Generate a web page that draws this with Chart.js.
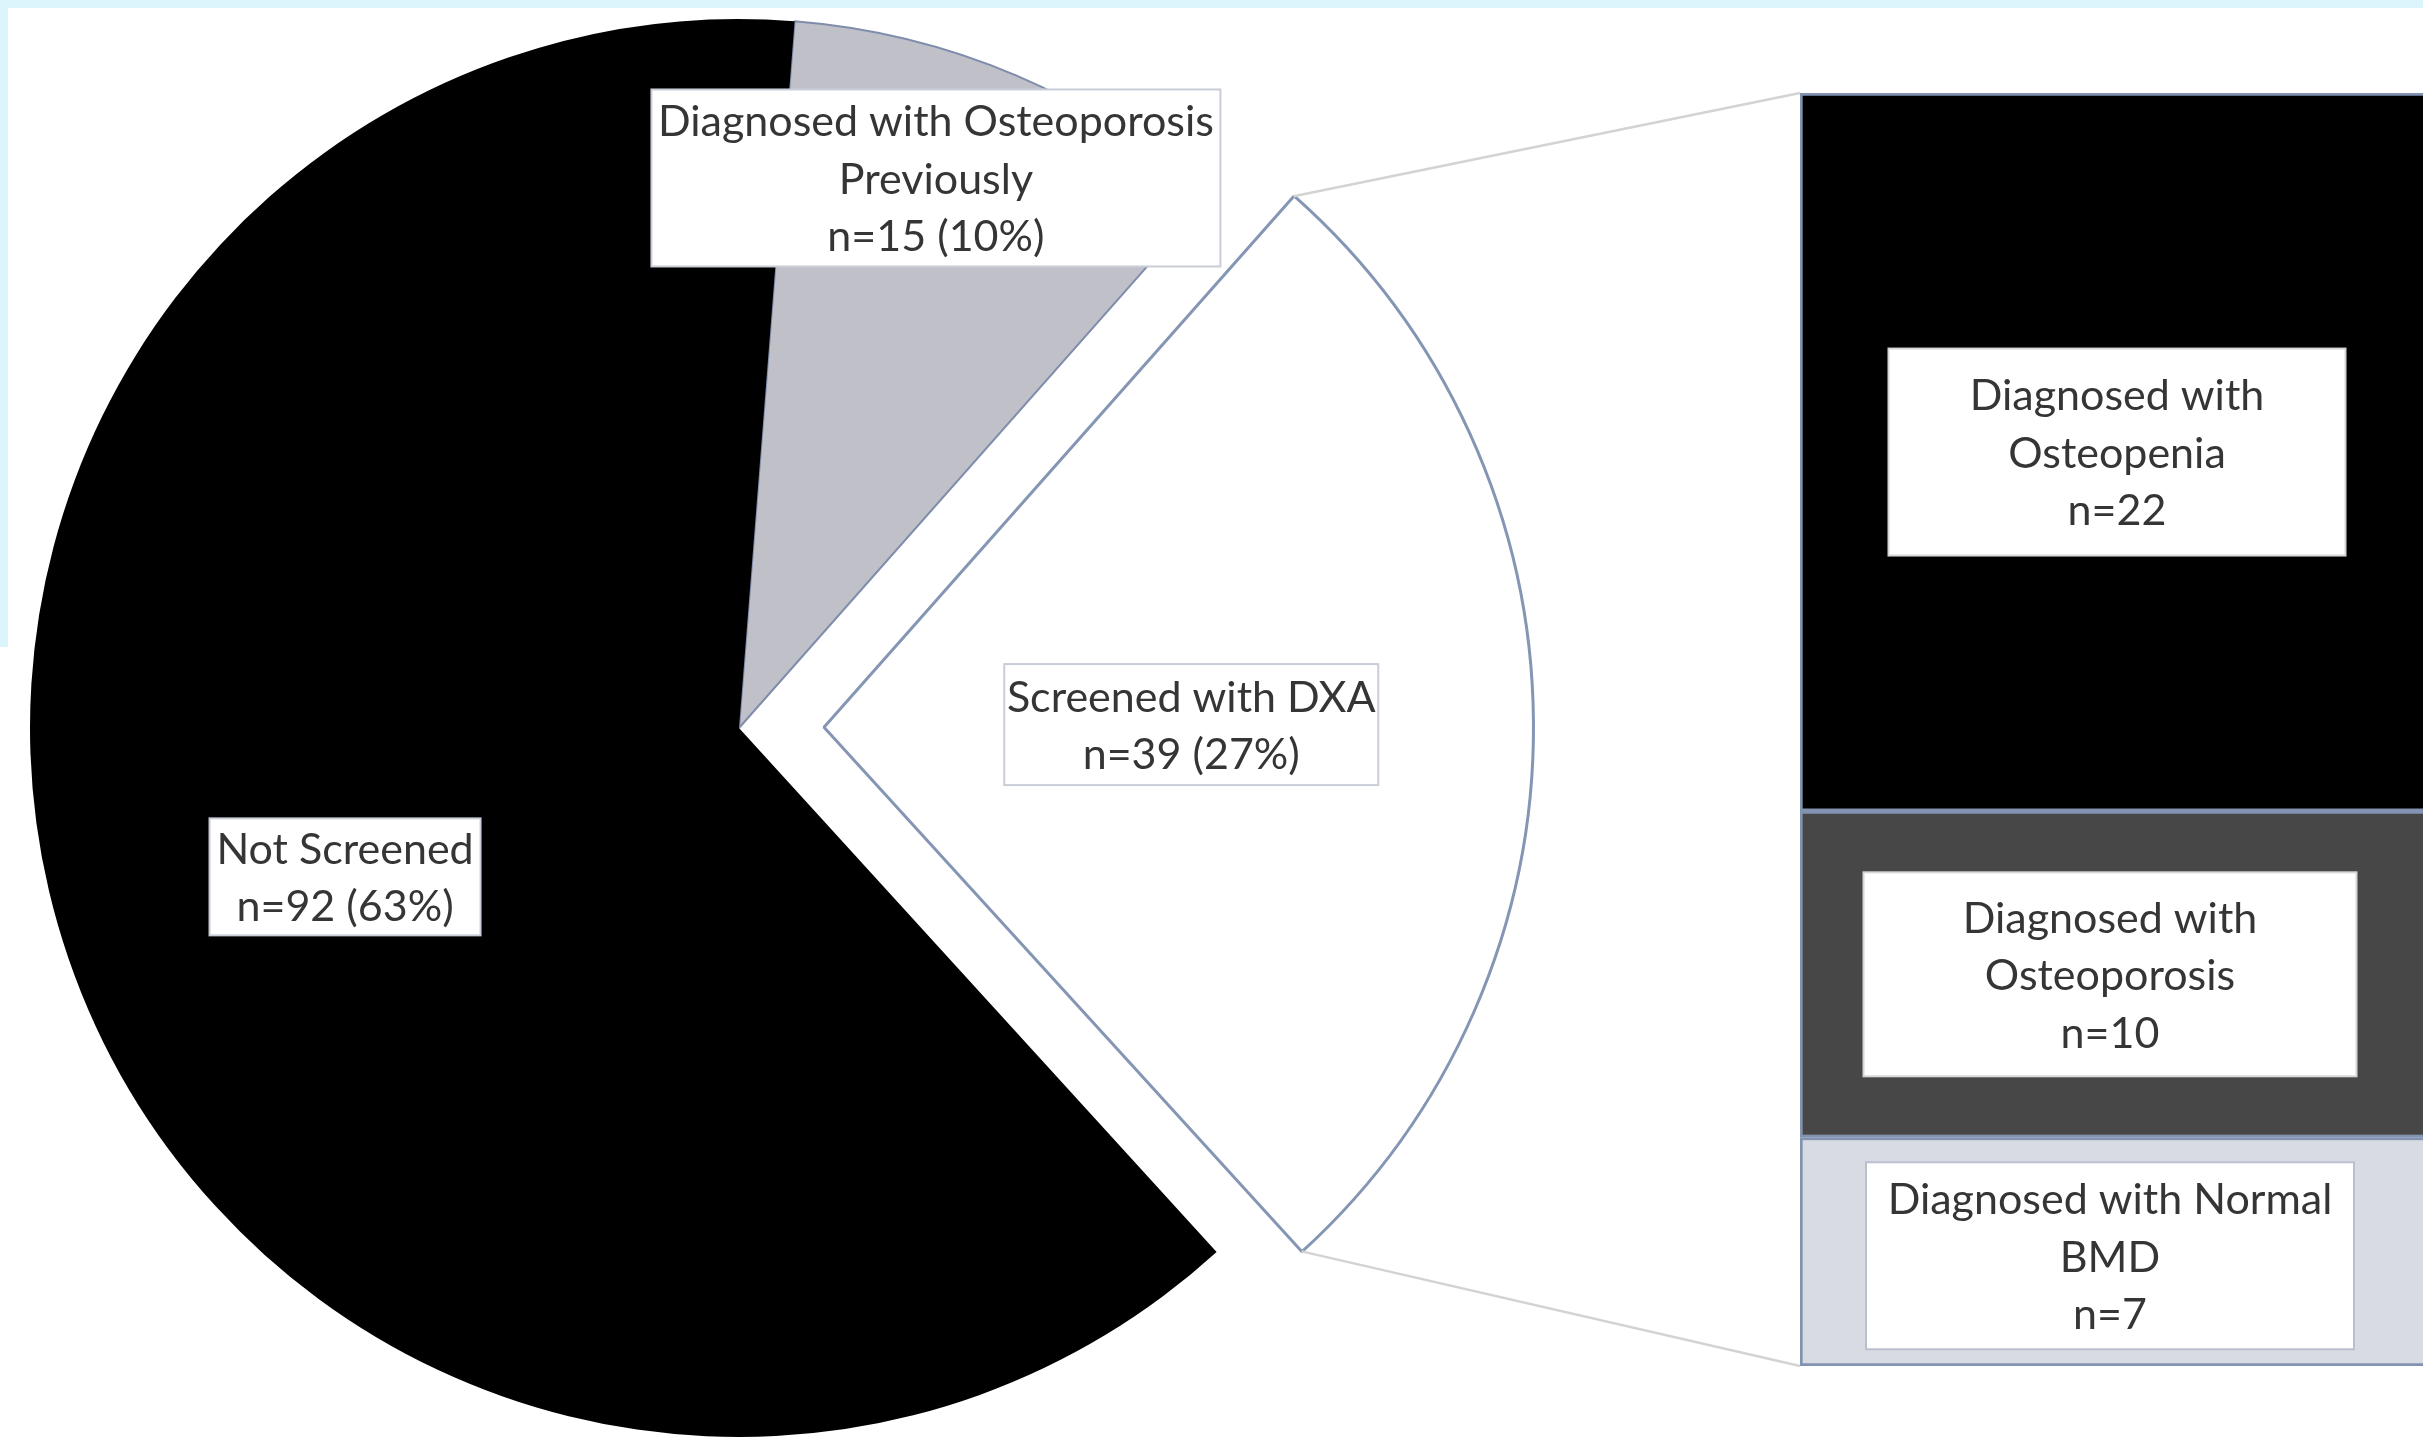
<!DOCTYPE html>
<html lang="en">
<head>
<meta charset="UTF-8">
<title>DXA screening</title>
<script src="https://cdn.jsdelivr.net/npm/chart.js"></script>
<style>
  html, body { margin: 0; padding: 0; background: #fff; overflow: hidden; }
  body { width: 2423px; height: 1441px; position: relative; }
  .band { position: absolute; background: #dcf4fc; }
  #pie { position: absolute; left: 0; top: 0; }
  #bar { position: absolute; left: 1800px; top: 93px; }
</style>
</head>
<body>
<div class="band" style="left:0;top:0;width:2423px;height:8px"></div>
<div class="band" style="left:0;top:0;width:8px;height:647px"></div>
<canvas id="pie" width="2423" height="1441"></canvas>
<canvas id="bar" width="626" height="1273"></canvas>
<script>
// whole cohort by screening status
const pieCategories = ['Diagnosed with Osteoporosis Previously', 'Screened with DXA', 'Not Screened'];
const pieLines = [['Diagnosed with Osteoporosis', 'Previously'], ['Screened with DXA'], ['Not Screened']];
const pieCounts = [15, 39, 92];

// DXA results, top of the bar to bottom
const dxaCategories = ['Osteopenia', 'Osteoporosis', 'Normal BMD'];
const dxaLines = [['Diagnosed with', 'Osteopenia'], ['Diagnosed with', 'Osteoporosis'], ['Diagnosed with Normal', 'BMD']];
const dxaCounts = [22, 10, 7];

const FONT = '43px Lato';
const TEXT = '#353535';
const LINE_H = 57.5;

// label boxes: size, and where they sit in the pie (radius fraction, angle from top)
const pieBoxes = [
  { w: 569, h: 177, r: 0.824, a: 19.7 },
  { w: 374, h: 121, r: 0.518, a: null },
  { w: 271, h: 117, r: 0.594, a: 249.3 }
];
const barBoxes = [
  { w: 457, h: 207, dx: 4, dy: 0 },
  { w: 493, h: 204, dx: -3, dy: 0 },
  { w: 488, h: 187, dx: -3, dy: 4 }
];

const total = pieCounts.reduce((a, b) => a + b, 0);
const pct = v => Math.round(v / total * 100);

function drawBox(ctx, cx, cy, w, h, lines, border) {
  ctx.save();
  ctx.fillStyle = '#fff';
  ctx.fillRect(cx - w / 2, cy - h / 2, w, h);
  ctx.strokeStyle = border;
  ctx.lineWidth = 2;
  ctx.strokeRect(cx - w / 2, cy - h / 2, w, h);
  ctx.fillStyle = TEXT;
  ctx.font = FONT;
  ctx.textAlign = 'center';
  ctx.textBaseline = 'middle';
  const y0 = cy - (lines.length - 1) / 2 * LINE_H + 2;
  lines.forEach((t, i) => ctx.fillText(t, cx, y0 + i * LINE_H));
  ctx.restore();
}

// ---- stacked bar for the DXA breakdown ----
const barCanvas = document.getElementById('bar');
const barColors = ['#000000', '#474747', '#d9dbe3'];

const barLabelPlugin = {
  id: 'barLabels',
  afterDatasetsDraw(chart) {
    const ctx = chart.ctx;
    dxaCounts.forEach((v, i) => {
      const el = chart.getDatasetMeta(i).data[0];
      const b = barBoxes[i];
      const cx = el.x + b.dx;
      const cy = (el.y + el.base) / 2 + b.dy;
      drawBox(ctx, cx, cy, b.w, b.h, [...dxaLines[i], 'n=' + v], i === 2 ? '#b9c0d0' : '#d6d6d6');
    });
  }
};

const barChart = new Chart(barCanvas, {
  type: 'bar',
  data: {
    labels: ['Screened with DXA'],
    datasets: dxaCounts.map((v, i) => ({
      label: dxaCategories[i],
      data: [v],
      backgroundColor: barColors[i],
      borderColor: '#8292b1',
      borderWidth: 3,
      borderSkipped: false,
      barPercentage: 1,
      categoryPercentage: 1
    }))
  },
  options: {
    responsive: false,
    animation: false,
    events: [],
    layout: { padding: 0 },
    scales: {
      x: { display: false, stacked: true },
      y: { display: false, stacked: true, reverse: true, min: 0, max: dxaCounts.reduce((a, b) => a + b, 0) }
    },
    plugins: { legend: { display: false }, tooltip: { enabled: false } }
  },
  plugins: [barLabelPlugin]
});

// ---- pie with the DXA slice pulled out ----
const pieCanvas = document.getElementById('pie');

const pieExtras = {
  id: 'pieExtras',
  afterDraw(chart) {
    const ctx = chart.ctx;
    const arcs = chart.getDatasetMeta(0).data;

    // where each slice really sits once its offset is applied
    const shifted = arc => {
      const half = (arc.startAngle + arc.endAngle) / 2;
      const off = (arc.options.offset || 0) / 4;
      return { x: arc.x + Math.cos(half) * off, y: arc.y + Math.sin(half) * off };
    };

    // connector lines from the DXA slice to the bar
    const dxa = arcs[1];
    const c = shifted(dxa);
    const R = dxa.outerRadius;
    const topEl = barChart.getDatasetMeta(0).data[0];
    const botEl = barChart.getDatasetMeta(dxaCounts.length - 1).data[0];
    const bx = barCanvas.offsetLeft + topEl.x - topEl.width / 2;
    const by0 = barCanvas.offsetTop + Math.min(topEl.y, topEl.base);
    const by1 = barCanvas.offsetTop + Math.max(botEl.y, botEl.base);
    ctx.save();
    ctx.strokeStyle = '#d3d3d3';
    ctx.lineWidth = 2.5;
    ctx.beginPath();
    ctx.moveTo(c.x + Math.cos(dxa.startAngle) * R, c.y + Math.sin(dxa.startAngle) * R);
    ctx.lineTo(bx, by0);
    ctx.moveTo(c.x + Math.cos(dxa.endAngle) * R, c.y + Math.sin(dxa.endAngle) * R);
    ctx.lineTo(bx, by1);
    ctx.stroke();
    ctx.restore();

    // slice labels
    arcs.forEach((arc, i) => {
      const b = pieBoxes[i];
      const p = shifted(arc);
      const ang = b.a === null ? (arc.startAngle + arc.endAngle) / 2 : (b.a - 90) * Math.PI / 180;
      const cx = p.x + Math.cos(ang) * arc.outerRadius * b.r;
      const cy = p.y + Math.sin(ang) * arc.outerRadius * b.r;
      const v = pieCounts[i];
      drawBox(ctx, cx, cy, b.w, b.h, [...pieLines[i], 'n=' + v + ' (' + pct(v) + '%)'], '#c9cdd7');
    });
  }
};

new Chart(pieCanvas, {
  type: 'pie',
  data: {
    labels: pieCategories,
    datasets: [{
      data: pieCounts,
      backgroundColor: ['#c0c1c8', '#ffffff', '#000000'],
      borderColor: ['#7f8cab', '#8496b3', '#000000'],
      borderWidth: [2, 3, 0],
      offset: [0, 340, 0],
      hoverOffset: 0
    }]
  },
  options: {
    responsive: false,
    animation: false,
    events: [],
    rotation: 4.5,
    radius: 709,
    layout: { padding: { left: 0, right: 945, top: 15, bottom: 0 } },
    plugins: { legend: { display: false }, tooltip: { enabled: false } }
  },
  plugins: [pieExtras]
});
</script>
</body>
</html>
